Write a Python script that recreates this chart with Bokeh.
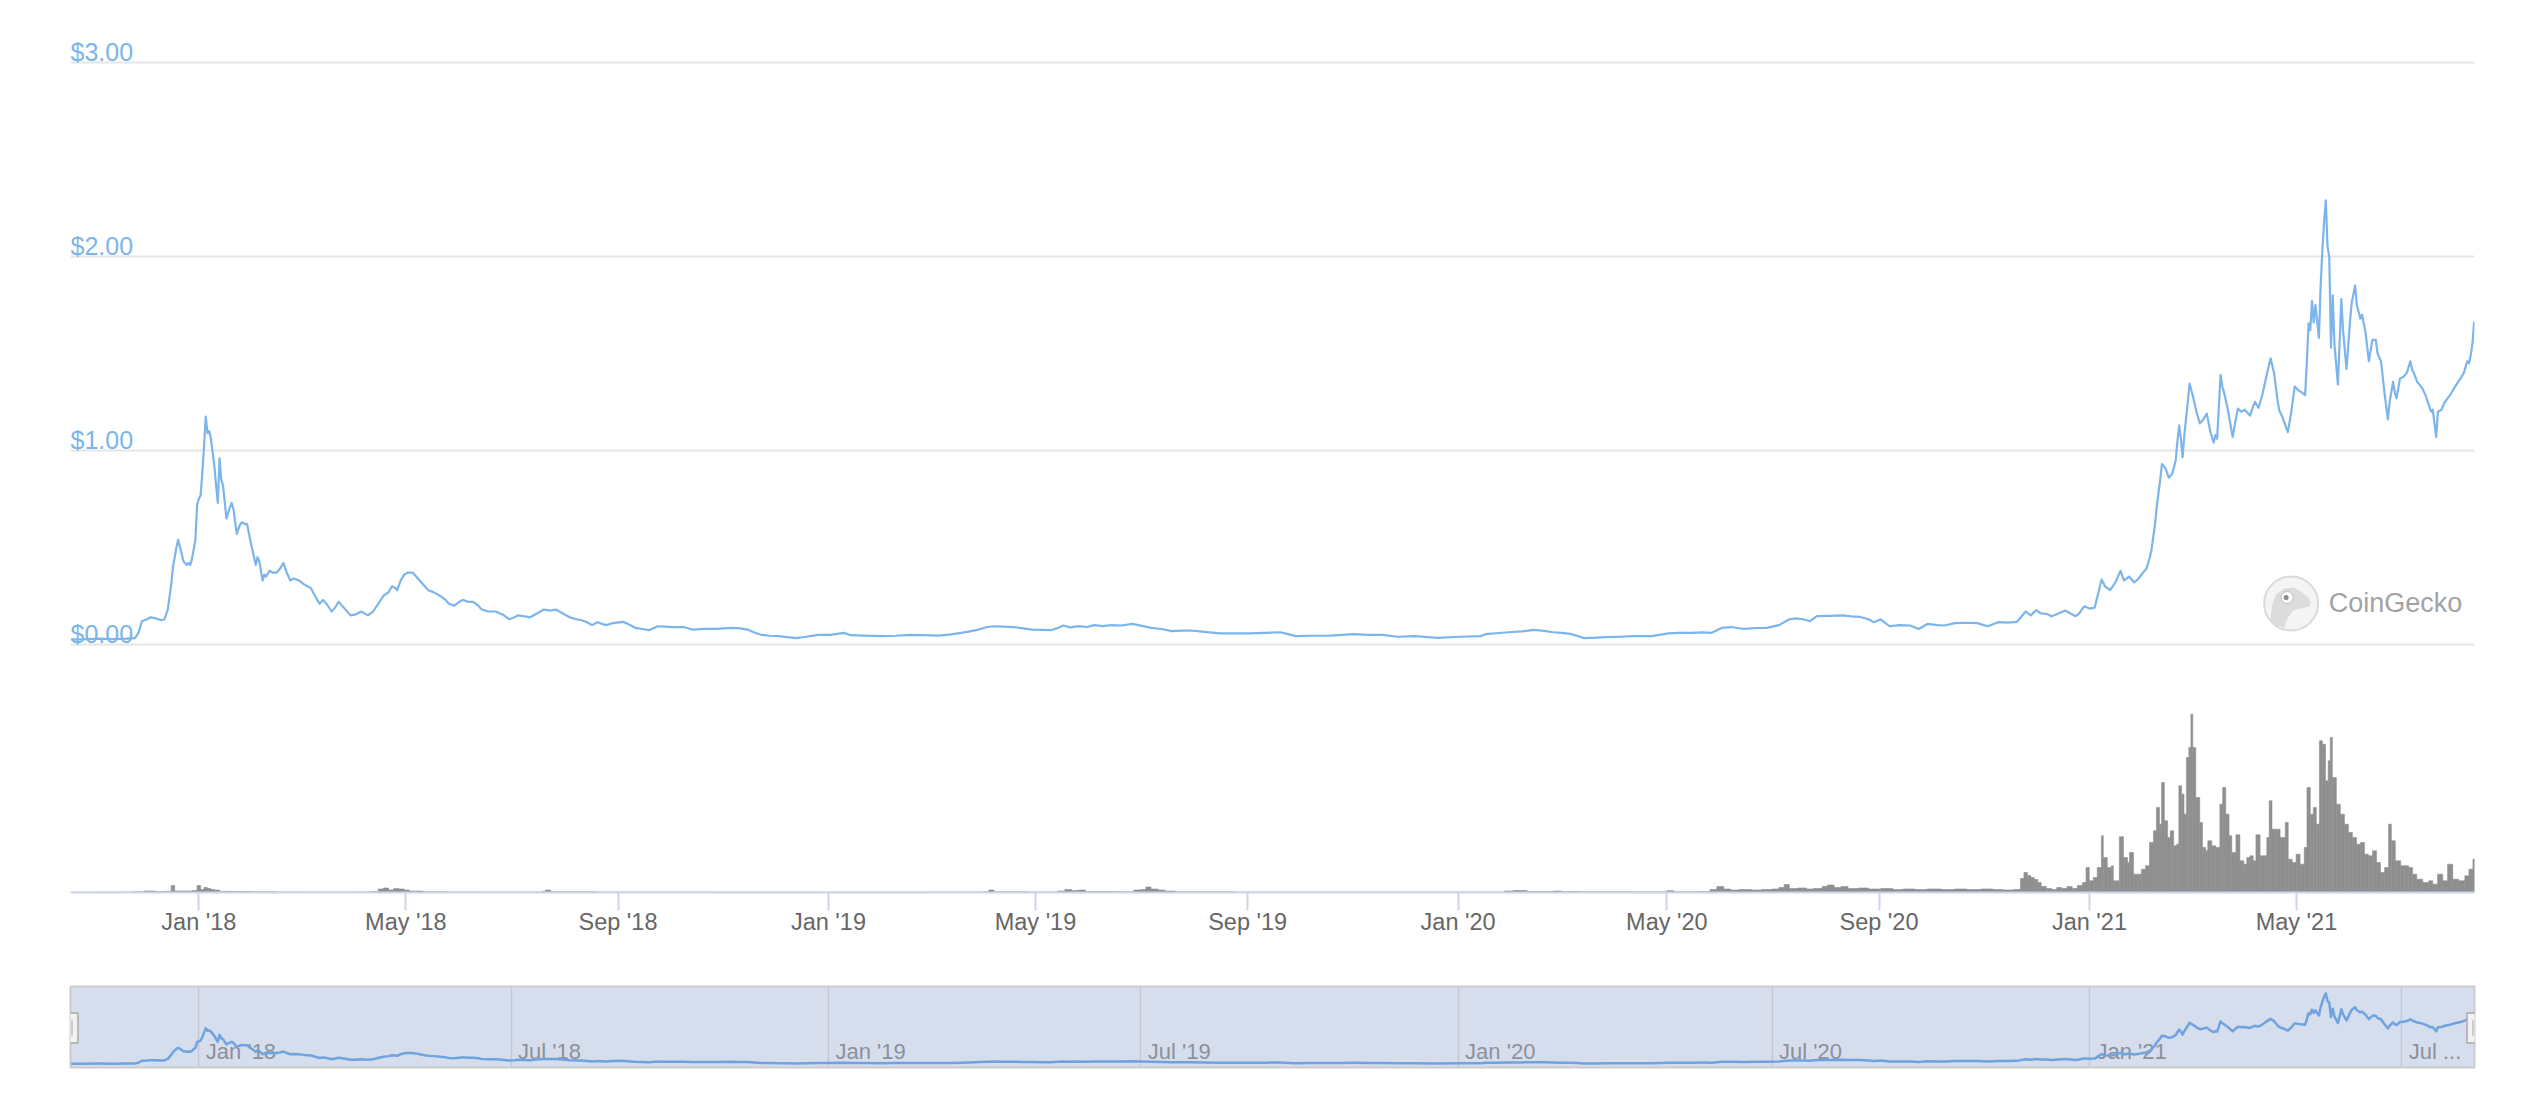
import pandas as pd
from bokeh.plotting import figure
from bokeh.layouts import column
from bokeh.models import (Range1d, FixedTicker, DatetimeTickFormatter, MonthsTicker,
                          ColumnDataSource)
from bokeh.embed import file_html
from bokeh.resources import INLINE
from bokeh.core.properties import value

# ---------------- data ----------------
BASE = pd.Timestamp("2018-01-01")          # day 0 of the offsets below
VIEW_START_DAY, VIEW_END_DAY = -74.4, 1319.2

price_day = [-74, -66, -58, -50, -42, -37, -35, -33, -30, -28, -25, -22, -20, -18, -16, -15, -13, -12, -10, -9,
             -7, -6, -5, -4, -2, -1, 0, 1, 2, 3, 4, 5, 6, 7, 9, 10, 11, 12, 13, 14,
             16, 17, 19, 20, 22, 24, 25, 27, 28, 30, 31, 33, 34, 35, 37, 38, 39, 41, 43, 45,
             47, 49, 51, 53, 55, 58, 61, 65, 68, 70, 72, 74, 77, 79, 81, 84, 88, 91, 94, 98,
             101, 104, 107, 110, 112, 114, 115, 117, 119, 121, 124, 126, 128, 131, 133, 136, 140, 143, 145, 148,
             151, 153, 156, 159, 162, 164, 168, 172, 176, 180, 183, 185, 189, 192, 196, 200, 204, 207, 211, 215,
             219, 222, 225, 228, 231, 236, 240, 246, 250, 253, 257, 261, 266, 270, 275, 281, 286, 293, 300, 309,
             314, 318, 322, 326, 331, 336, 341, 346, 352, 359, 366, 374, 378, 385, 396, 404, 412, 420, 429, 436,
             442, 447, 452, 457, 461, 466, 472, 478, 483, 489, 494, 498, 501, 505, 510, 515, 519, 524, 529, 535,
             541, 546, 552, 558, 564, 570, 575, 583, 592, 600, 609, 618, 627, 632, 636, 645, 656, 663, 669, 678,
             686, 695, 705, 718, 731, 743, 746, 752, 759, 767, 774, 780, 785, 790, 795, 799, 803, 810, 816, 824,
             831, 842, 852, 858, 865, 872, 877, 883, 888, 896, 903, 909, 916, 922, 926, 930, 934, 938, 945, 953,
             958, 963, 968, 971, 975, 980, 986, 992, 997, 1002, 1008, 1012, 1018, 1024, 1031, 1037, 1043, 1049, 1054, 1059,
             1062, 1065, 1068, 1071, 1074, 1078, 1082, 1085, 1088, 1090, 1093, 1096, 1099, 1101, 1103, 1105, 1108, 1111, 1114, 1116,
             1119, 1122, 1124, 1127, 1129, 1131, 1132, 1134, 1135, 1137, 1138, 1140, 1142, 1144, 1146, 1147, 1148, 1149, 1150, 1151,
             1153, 1154, 1156, 1158, 1160, 1162, 1164, 1166, 1168, 1169, 1170, 1172, 1173, 1174, 1176, 1179, 1180, 1182, 1184, 1186,
             1189, 1191, 1192, 1194, 1196, 1199, 1201, 1203, 1205, 1206, 1208, 1211, 1213, 1215, 1217, 1219, 1221, 1222, 1223, 1224,
             1225, 1226, 1227, 1229, 1230, 1231, 1232, 1233, 1234, 1235, 1236, 1237, 1238, 1240, 1241, 1242, 1243, 1245, 1247, 1248,
             1250, 1251, 1253, 1254, 1256, 1258, 1260, 1262, 1263, 1265, 1267, 1269, 1270, 1272, 1273, 1274, 1276, 1278, 1280, 1282,
             1283, 1284, 1286, 1289, 1291, 1294, 1295, 1297, 1298, 1300, 1302, 1305, 1308, 1311, 1313, 1315, 1316, 1317, 1318, 1319]
price_usd = [0.025, 0.027, 0.03, 0.028, 0.03, 0.033, 0.06, 0.12, 0.13, 0.14, 0.135, 0.125, 0.13, 0.18, 0.31, 0.40, 0.50, 0.54, 0.47, 0.43,
             0.41, 0.42, 0.41, 0.44, 0.54, 0.72, 0.75, 0.77, 0.88, 1.02, 1.175, 1.09, 1.10, 1.06, 0.92, 0.82, 0.73, 0.96, 0.85, 0.82,
             0.65, 0.68, 0.73, 0.70, 0.57, 0.62, 0.63, 0.62, 0.62, 0.53, 0.49, 0.41, 0.45, 0.43, 0.33, 0.36, 0.35, 0.38, 0.37, 0.37,
             0.39, 0.42, 0.37, 0.33, 0.34, 0.33, 0.31, 0.29, 0.24, 0.21, 0.23, 0.21, 0.17, 0.19, 0.22, 0.19, 0.15, 0.155, 0.17, 0.15,
             0.17, 0.21, 0.25, 0.27, 0.30, 0.29, 0.28, 0.33, 0.36, 0.37, 0.37, 0.35, 0.33, 0.30, 0.28, 0.27, 0.25, 0.23, 0.21, 0.20,
             0.22, 0.23, 0.22, 0.22, 0.20, 0.18, 0.17, 0.17, 0.155, 0.13, 0.14, 0.15, 0.145, 0.14, 0.16, 0.18, 0.175, 0.18, 0.16, 0.14,
             0.13, 0.125, 0.115, 0.10, 0.115, 0.10, 0.11, 0.117, 0.10, 0.086, 0.08, 0.074, 0.094, 0.092, 0.09, 0.09, 0.077, 0.08, 0.08, 0.086,
             0.083, 0.077, 0.062, 0.05, 0.045, 0.043, 0.038, 0.033, 0.04, 0.05, 0.05, 0.06, 0.048, 0.046, 0.043, 0.045, 0.05, 0.048, 0.046, 0.052,
             0.06, 0.068, 0.077, 0.09, 0.094, 0.092, 0.09, 0.083, 0.077, 0.075, 0.074, 0.085, 0.098, 0.088, 0.095, 0.09, 0.10, 0.095, 0.10, 0.098,
             0.106, 0.097, 0.086, 0.08, 0.069, 0.071, 0.072, 0.065, 0.057, 0.058, 0.057, 0.06, 0.063, 0.052, 0.043, 0.045, 0.046, 0.05, 0.053, 0.05,
             0.05, 0.04, 0.043, 0.034, 0.04, 0.043, 0.053, 0.058, 0.063, 0.068, 0.075, 0.07, 0.063, 0.06, 0.055, 0.045, 0.033, 0.035, 0.038, 0.04,
             0.043, 0.043, 0.057, 0.06, 0.06, 0.062, 0.06, 0.086, 0.09, 0.08, 0.085, 0.086, 0.10, 0.13, 0.135, 0.13, 0.12, 0.146, 0.148, 0.15,
             0.145, 0.142, 0.13, 0.115, 0.13, 0.094, 0.10, 0.098, 0.08, 0.106, 0.10, 0.098, 0.11, 0.112, 0.11, 0.094, 0.115, 0.113, 0.117, 0.17,
             0.15, 0.177, 0.16, 0.158, 0.146, 0.16, 0.175, 0.16, 0.146, 0.16, 0.197, 0.185, 0.19, 0.26, 0.335, 0.30, 0.28, 0.32, 0.38, 0.33,
             0.35, 0.32, 0.335, 0.37, 0.39, 0.45, 0.49, 0.62, 0.71, 0.85, 0.93, 0.91, 0.86, 0.88, 0.95, 1.05, 1.13, 1.06, 0.965, 1.08,
             1.25, 1.345, 1.28, 1.20, 1.14, 1.16, 1.19, 1.10, 1.04, 1.08, 1.06, 1.39, 1.33, 1.30, 1.22, 1.07, 1.12, 1.216, 1.20, 1.21,
             1.18, 1.23, 1.25, 1.22, 1.28, 1.40, 1.475, 1.40, 1.26, 1.207, 1.17, 1.095, 1.20, 1.33, 1.31, 1.30, 1.285, 1.45, 1.656, 1.62,
             1.77, 1.66, 1.75, 1.58, 1.85, 2.03, 2.18, 2.29, 2.05, 2.00, 1.53, 1.80, 1.55, 1.34, 1.55, 1.78, 1.62, 1.42, 1.66, 1.76,
             1.85, 1.75, 1.68, 1.70, 1.61, 1.46, 1.57, 1.57, 1.50, 1.46, 1.30, 1.16, 1.25, 1.354, 1.30, 1.27, 1.37, 1.38, 1.40, 1.46,
             1.42, 1.40, 1.354, 1.32, 1.28, 1.20, 1.21, 1.07, 1.20, 1.21, 1.25, 1.285, 1.33, 1.37, 1.40, 1.46, 1.45, 1.49, 1.55, 1.665]

vol_day = [-74, -60, -46, -38, -32, -25, -20, -16, -14, -8, -4, -1, 1, 3, 5, 7, 9, 12, 20, 30,
           45, 60, 75, 90, 100, 104, 107, 110, 113, 116, 119, 122, 130, 145, 160, 180, 199, 201, 204, 230,
           260, 300, 340, 380, 420, 455, 458, 461, 480, 498, 502, 506, 510, 514, 530, 542, 546, 549, 552, 556,
           560, 566, 600, 640, 680, 720, 757, 762, 770, 785, 790, 800, 830, 851, 855, 870, 876, 880, 884, 888,
           893, 900, 906, 912, 916, 919, 922, 927, 932, 936, 941, 944, 948, 952, 956, 962, 968, 975, 982, 988,
           995, 1002, 1010, 1018, 1025, 1033, 1040, 1046, 1052, 1056, 1058, 1060, 1062, 1064, 1066, 1068, 1071, 1074, 1077, 1080,
           1083, 1086, 1089, 1092, 1094.0, 1095.9, 1098.2, 1100.5, 1102.9, 1104.0, 1106.3, 1108.7, 1109.8, 1113.3, 1115.7, 1118.0, 1119.2, 1121.5, 1123.8, 1126.1,
           1128.5, 1130.8, 1133.1, 1134.8, 1136.6, 1137.8, 1139.4, 1141.3, 1142.9, 1144.8, 1146.6, 1147.8, 1149.4, 1150.8, 1152.2, 1153.6, 1154.8, 1155.9, 1157.6, 1159.9,
           1161.5, 1163.4, 1164.6, 1166.9, 1169.2, 1171.6, 1173.2, 1175.0, 1176.9, 1178.5, 1180.9, 1183.2, 1185.5, 1187.2, 1189.0, 1190.9, 1192.5, 1194.9, 1197.2, 1198.8,
           1200.2, 1201.8, 1204.2, 1206.5, 1209.5, 1211.2, 1213.5, 1215.8, 1218.1, 1220.5, 1222.1, 1224.0, 1225.8, 1227.5, 1229.3, 1231.0, 1232.8, 1234.4, 1235.6, 1236.8,
           1239.1, 1241.4, 1243.8, 1246.1, 1248.4, 1250.8, 1253.1, 1255.4, 1257.7, 1260.1, 1262.4, 1264.7, 1267.1, 1269.4, 1271.0, 1273.3, 1276.4, 1278.7, 1281.0, 1283.3,
           1285.7, 1289.2, 1292.7, 1295.0, 1297.8, 1300.8, 1303.6, 1306.6, 1310.1, 1313.6, 1316.0, 1318.3]
vol_bn = [0.03, 0.04, 0.05, 0.08, 0.15, 0.10, 0.12, 0.70, 0.15, 0.15, 0.20, 0.70, 0.30, 0.50, 0.40, 0.30, 0.25, 0.12, 0.10, 0.08,
          0.06, 0.05, 0.05, 0.06, 0.10, 0.35, 0.45, 0.25, 0.40, 0.35, 0.25, 0.15, 0.08, 0.06, 0.05, 0.05, 0.12, 0.25, 0.08, 0.05,
          0.05, 0.04, 0.04, 0.04, 0.05, 0.08, 0.25, 0.08, 0.06, 0.15, 0.30, 0.20, 0.25, 0.10, 0.08, 0.25, 0.30, 0.55, 0.35, 0.25,
          0.15, 0.08, 0.05, 0.05, 0.05, 0.05, 0.15, 0.20, 0.10, 0.15, 0.10, 0.08, 0.07, 0.18, 0.08, 0.10, 0.30, 0.60, 0.35, 0.25,
          0.30, 0.25, 0.30, 0.35, 0.50, 0.80, 0.40, 0.45, 0.35, 0.40, 0.60, 0.75, 0.50, 0.60, 0.40, 0.45, 0.35, 0.40, 0.30, 0.35,
          0.30, 0.35, 0.30, 0.35, 0.30, 0.35, 0.30, 0.25, 0.30, 1.40, 2.00, 1.70, 1.50, 1.30, 1.00, 0.60, 0.40, 0.30, 0.50, 0.40,
          0.60, 0.40, 0.70, 1.00, 2.50, 1.17, 1.50, 2.50, 5.67, 3.50, 2.50, 2.67, 1.17, 5.57, 3.50, 3.00, 4.00, 1.83, 1.83, 2.33,
          2.67, 5.00, 6.17, 8.50, 6.83, 11.00, 7.17, 5.50, 6.17, 4.67, 4.83, 10.67, 9.83, 7.83, 13.50, 14.50, 17.83, 14.50, 9.50, 7.00,
          4.50, 4.17, 5.17, 4.67, 4.50, 8.83, 10.50, 7.83, 5.67, 4.00, 5.77, 3.17, 2.83, 3.50, 3.67, 3.17, 5.77, 3.67, 3.67, 5.50,
          9.17, 6.33, 6.33, 5.50, 7.00, 3.33, 3.00, 3.83, 2.83, 4.50, 10.50, 7.83, 8.50, 6.83, 15.17, 14.83, 11.17, 13.17, 15.50, 11.50,
          8.83, 7.83, 6.83, 6.00, 5.50, 4.83, 5.00, 3.83, 3.67, 4.17, 3.00, 2.00, 2.50, 6.83, 5.17, 3.17, 2.67, 2.67, 2.50, 1.83,
          1.33, 1.00, 1.17, 0.83, 1.83, 1.17, 2.83, 1.33, 1.17, 1.67, 2.33, 3.33]

y_tick_values = [0, 1, 2, 3]
y_tick_labels = ["$0.00", "$1.00", "$2.00", "$3.00"]
nav_tick_dates = ["2018-01-01", "2018-07-01", "2019-01-01", "2019-07-01",
                  "2020-01-01", "2020-07-01", "2021-01-01", "2021-07-01"]
nav_tick_labels = ["Jan '18", "Jul '18", "Jan '19", "Jul '19", "Jan '20", "Jul '20", "Jan '21", "Jul ..."]
watermark_text = "CoinGecko"

# ---------------- derived ----------------
def to_dt(days):
    return BASE + pd.to_timedelta(days, unit="D")

price_dates = to_dt(price_day)
vol_dates = to_dt(vol_day)
vol_right = list(vol_dates[1:]) + [vol_dates[-1] + pd.Timedelta(days=1.5)]
x_start, x_end = to_dt(VIEW_START_DAY), to_dt(VIEW_END_DAY)

FONT = "Liberation Sans"
FRAME_W = 2404
MAIN_H = 862
PX_PER_DAY = FRAME_W / (VIEW_END_DAY - VIEW_START_DAY)
P_LO, P_HI = -1.2784, 3.1649
PX_PER_USD = MAIN_H / (P_HI - P_LO)

src_price = ColumnDataSource(dict(x=price_dates, y=price_usd))
src_vol = ColumnDataSource(dict(left=vol_dates, right=vol_right, top=vol_bn,
                                bottom=[0] * len(vol_bn)))

# ---------------- main chart (price + volume) ----------------
p = figure(x_axis_type="datetime", frame_width=FRAME_W, frame_height=MAIN_H,
           min_border_left=70, min_border_right=32, min_border_top=30, min_border_bottom=70,
           x_range=Range1d(x_start, x_end), y_range=Range1d(P_LO, P_HI),
           output_backend="svg", toolbar_location=None)
p.extra_y_ranges = {"vol": Range1d(0, 86.2)}
p.outline_line_color = None
p.background_fill_color = "white"
p.border_fill_color = "white"

p.yaxis.visible = False
p.ygrid.ticker = FixedTicker(ticks=y_tick_values)
p.ygrid.grid_line_color = "#e6e6e6"
p.ygrid.grid_line_width = 2
p.xgrid.visible = False

xa = p.xaxis[0]
xa.ticker = MonthsTicker(months=[0, 4, 8])
xa.formatter = DatetimeTickFormatter(months="%b '%y", years="%b '%y", days="%b '%y")
xa.axis_line_color = "#ccd6eb"
xa.axis_line_width = 2
xa.major_tick_line_color = "#ccd6eb"
xa.major_tick_line_width = 2
xa.major_tick_out = 18
xa.major_tick_in = 0
xa.minor_tick_line_color = None
xa.major_label_standoff = -2
xa.major_label_text_font = FONT
xa.major_label_text_font_size = "23.5px"
xa.major_label_text_color = "#666666"

p.quad(left="left", right="right", top="top", bottom="bottom", source=src_vol,
       y_range_name="vol", fill_color="#8f8f8f", line_color="#8f8f8f", line_width=0.6)
p.line("x", "y", source=src_price, line_color="#7cb5ec", line_width=2.2, line_join="round")

p.text(x=[x_start] * len(y_tick_values), y=y_tick_values, text=y_tick_labels,
       text_font=value(FONT), text_font_size="25px", text_color="#7cb5ec",
       text_align="left", text_baseline="alphabetic", y_offset=-10)

# CoinGecko watermark
wm_day = (2290.7 - 198.4) / PX_PER_DAY
wm_usd = (644 - 603) / PX_PER_USD
def off(dx, dy):
    return to_dt(wm_day + dx / PX_PER_DAY), wm_usd - dy / PX_PER_USD
p.scatter([to_dt(wm_day)], [wm_usd], marker="circle", size=54,
          fill_color="#f4f4f4", line_color="#d9d9d9", line_width=2)
gecko = [(-21, 17), (-19, 2), (-15, -9), (-7, -15), (3, -16), (11, -11), (17, -6), (20, -1),
         (18, 3), (10, 5), (2, 7), (-3, 14), (-7, 24), (-14, 22)]
gx, gy = zip(*[off(dx, dy) for dx, dy in gecko])
p.patch(list(gx), list(gy), fill_color="#dcdcdc", line_color=None)
ex, ey = off(-4, -6)
p.scatter([ex], [ey], marker="circle", size=12, fill_color="white", line_color="#bdbdbd", line_width=1)
px_, py_ = off(-5, -6)
p.scatter([px_], [py_], marker="circle", size=5, fill_color="#8a8a8a", line_color=None)
tx, ty = off(37.5, 0)
p.text(x=[tx], y=[ty], text=[watermark_text], text_font=value(FONT), text_font_size="27px",
       text_color="#a3a3a3", text_align="left", text_baseline="middle")

# ---------------- navigator ----------------
N_LO, N_HI = -0.097, 2.516
n = figure(x_axis_type="datetime", frame_width=FRAME_W, frame_height=81,
           min_border_left=70, min_border_right=32, min_border_top=24, min_border_bottom=10,
           x_range=Range1d(x_start, x_end), y_range=Range1d(N_LO, N_HI),
           output_backend="svg", toolbar_location=None)
n.xaxis.visible = False
n.yaxis.visible = False
n.ygrid.visible = False
nav_dt = pd.to_datetime(nav_tick_dates)
n.xgrid.ticker = FixedTicker(ticks=[d.value / 1e6 for d in nav_dt])
n.xgrid.grid_line_color = "#c3c8d4"
n.xgrid.grid_line_width = 1.5
n.background_fill_color = "#d6deee"
n.border_fill_color = "white"
n.outline_line_color = "#cccccc"
n.outline_line_width = 2

n.text(x=nav_dt, y=[N_LO] * len(nav_dt), text=nav_tick_labels, text_font=value(FONT),
       text_font_size="22px", text_color="#8c909a", text_align="left",
       text_baseline="alphabetic", x_offset=7, y_offset=-16)
n.line("x", "y", source=src_price, line_color="#6fa3e0", line_width=2.5, line_join="round")

# handles
h_y = (N_LO + N_HI) / 2 - 0.03
n.rect(x=[x_start, x_end], y=[h_y, h_y], width=15, height=30, width_units="screen",
       height_units="screen", fill_color="#f2f2f2", line_color="#a8a8a8", line_width=1.5)
NAV_PX_PER_USD = 81 / (N_HI - N_LO)
for base_day in (VIEW_START_DAY, VIEW_END_DAY):
    for dx in (-1.5, 1.5):
        xd = to_dt(base_day + dx / PX_PER_DAY)
        n.segment(x0=[xd], y0=[h_y - 8 / NAV_PX_PER_USD], x1=[xd], y1=[h_y + 8 / NAV_PX_PER_USD],
                  line_color="#a8a8a8", line_width=1)

layout = column(p, n, spacing=0)
open("out.html", "w").write(file_html(layout, INLINE))
